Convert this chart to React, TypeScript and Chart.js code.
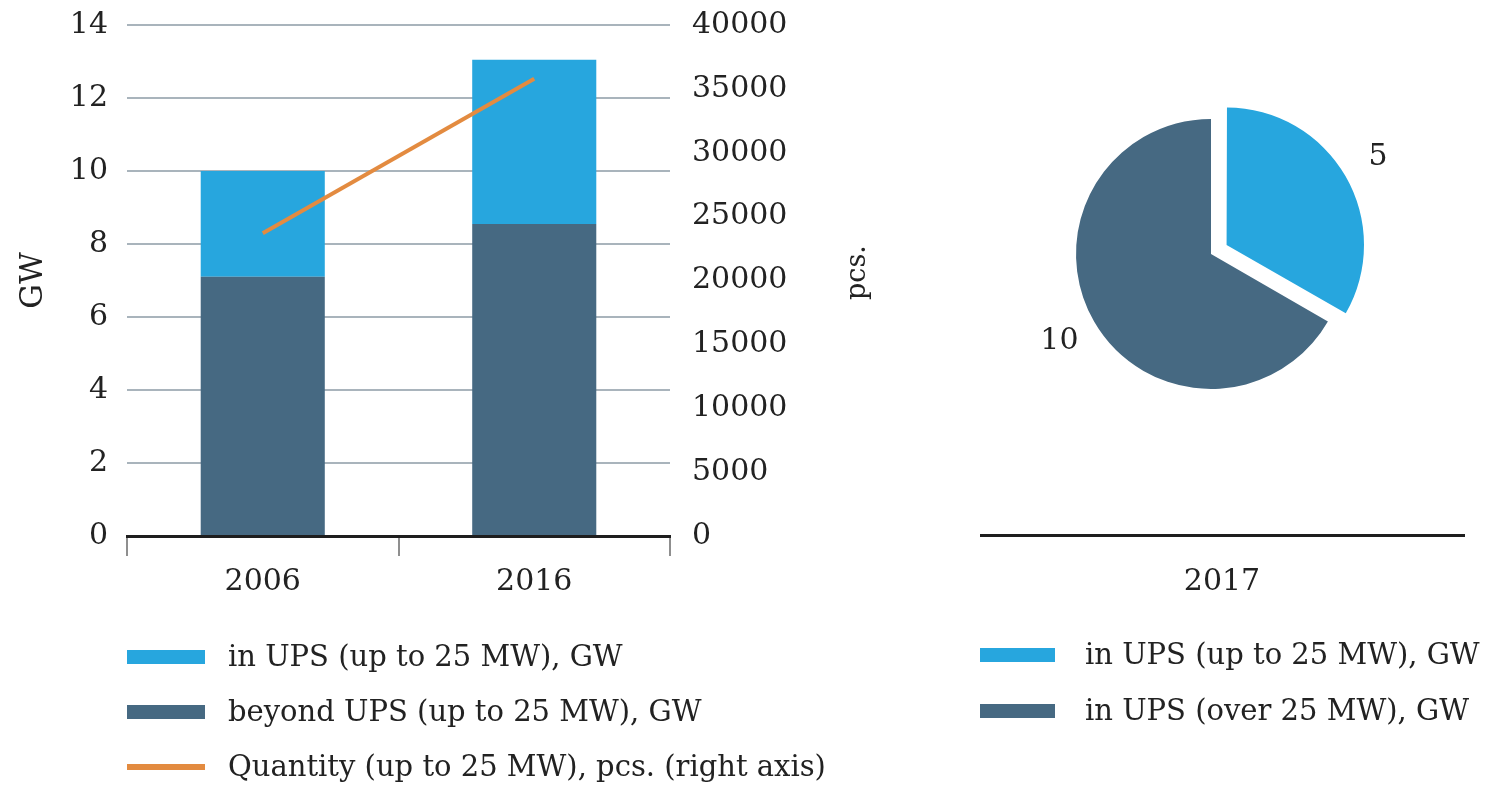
import React, { useEffect, useRef } from 'react';
import { Chart, registerables } from 'chart.js';

Chart.register(...registerables);

// ---- data ----
const years = ['2006', '2016'];
const inUpsGw = [2.9, 4.5];
const beyondUpsGw = [7.1, 8.55];
const quantityPcs = [23700, 35800];

const barLegendLabels = [
  'in UPS (up to 25 MW), GW',
  'beyond UPS (up to 25 MW), GW',
  'Quantity (up to 25 MW), pcs. (right axis)',
];

const pieYear = '2017';
const pieLabels = ['in UPS (up to 25 MW), GW', 'in UPS (over 25 MW), GW'];
const pieValues = [5, 10];

// ---- styling ----
const FONT = '"DejaVu Serif", "Liberation Serif", serif';
const TEXT = '#222222';
const LIGHT = '#27A6DE';
const DARK = '#466982';
const ORANGE = '#E38B40';
const GRID = '#a9b4bc';
// Chart.js 4 draws an arc's offset at a quarter of the option value
const EXPLODE_PX = 18;

// Axis titles and the stacked legend under the bar chart
const barDecor = {
  id: 'barDecor',
  afterDraw(chart: any) {
    const { ctx, chartArea } = chart;
    const midY = (chartArea.top + chartArea.bottom) / 2;
    ctx.save();
    ctx.fillStyle = TEXT;
    ctx.textAlign = 'center';
    ctx.textBaseline = 'middle';

    ctx.font = `31px ${FONT}`;
    ctx.save();
    ctx.translate(chartArea.left - 93, midY);
    ctx.rotate(-Math.PI / 2);
    ctx.fillText('GW', 0, 0);
    ctx.restore();

    ctx.font = `27px ${FONT}`;
    ctx.save();
    ctx.translate(chartArea.right + 188, midY - 8);
    ctx.rotate(-Math.PI / 2);
    ctx.fillText('pcs.', 0, 0);
    ctx.restore();

    // legend: one item per row, in the order in UPS / beyond UPS / Quantity
    const order = [2, 1, 0];
    const x0 = chartArea.left;
    ctx.textAlign = 'left';
    ctx.font = `29px ${FONT}`;
    order.forEach((dsIndex, row) => {
      const ds = chart.data.datasets[dsIndex];
      const y = chartArea.bottom + 121 + row * 55;
      if (ds.type === 'line') {
        ctx.fillStyle = ds.borderColor;
        ctx.fillRect(x0, y - 3, 78, 6);
      } else {
        ctx.fillStyle = ds.backgroundColor;
        ctx.fillRect(x0, y - 7, 78, 14);
      }
      ctx.fillStyle = TEXT;
      ctx.fillText(ds.label, x0 + 101, y + 1);
    });
    ctx.restore();
  },
};

// Value labels beside the slices, the base rule with the year, and the legend
const pieDecor = {
  id: 'pieDecor',
  afterDraw(chart: any) {
    const { ctx } = chart;
    const meta = chart.getDatasetMeta(0);
    const ds = chart.data.datasets[0];
    ctx.save();
    ctx.fillStyle = TEXT;
    ctx.textAlign = 'center';
    ctx.textBaseline = 'middle';
    ctx.font = `30px ${FONT}`;
    meta.data.forEach((arc: any, i: number) => {
      const { x, y, startAngle, endAngle, outerRadius } = arc.getProps(
        ['x', 'y', 'startAngle', 'endAngle', 'outerRadius'],
        true
      );
      const mid = (startAngle + endAngle) / 2;
      const off = Array.isArray(ds.offset) ? ds.offset[i] / 4 : 0;
      const r = outerRadius + off + 40;
      ctx.fillText(String(ds.data[i]), x + Math.cos(mid) * r, y + Math.sin(mid) * r);
    });

    // base rule and year label
    ctx.fillStyle = '#1e1e1e';
    ctx.fillRect(30, 534, 485, 3);
    ctx.fillStyle = TEXT;
    ctx.font = `30px ${FONT}`;
    ctx.fillText(pieYear, 272, 582);

    // legend
    ctx.textAlign = 'left';
    ctx.font = `29px ${FONT}`;
    chart.data.labels.forEach((label: string, i: number) => {
      const y = 655 + i * 56;
      ctx.fillStyle = ds.backgroundColor[i];
      ctx.fillRect(30, y - 7, 75, 14);
      ctx.fillStyle = TEXT;
      ctx.fillText(label, 135, y + 1);
    });
    ctx.restore();
  },
};

function BarLineChart() {
  const ref = useRef<HTMLCanvasElement>(null);
  useEffect(() => {
    if (!ref.current) return;
    const tickFont = { family: FONT, size: 30 };
    const chart = new Chart(ref.current, {
      type: 'bar',
      data: {
        labels: years,
        datasets: [
          {
            type: 'line',
            label: barLegendLabels[2],
            data: quantityPcs,
            yAxisID: 'y1',
            borderColor: ORANGE,
            backgroundColor: ORANGE,
            borderWidth: 4,
            pointRadius: 0,
            order: 0,
          } as any,
          {
            type: 'bar',
            label: barLegendLabels[1],
            data: beyondUpsGw,
            yAxisID: 'y',
            backgroundColor: DARK,
            order: 1,
          },
          {
            type: 'bar',
            label: barLegendLabels[0],
            data: inUpsGw,
            yAxisID: 'y',
            backgroundColor: LIGHT,
            order: 1,
          },
        ],
      },
      options: {
        animation: false,
        responsive: false,
        maintainAspectRatio: false,
        layout: { padding: { left: 14, right: 24, top: 25, bottom: 169 } },
        datasets: { bar: { barPercentage: 0.457, categoryPercentage: 1 } },
        plugins: { legend: { display: false }, tooltip: { enabled: false } },
        scales: {
          x: {
            stacked: true,
            grid: {
              offset: true,
              drawOnChartArea: false,
              drawTicks: true,
              tickLength: 20,
              color: '#8f8f8f',
              lineWidth: 2,
            },
            border: { display: true, color: '#1e1e1e', width: 3 },
            ticks: { font: tickFont, color: TEXT, padding: 8 },
            afterFit: (s: any) => {
              s.height = 80;
            },
          },
          y: {
            stacked: true,
            position: 'left',
            min: 0,
            max: 14,
            // the gap between labels and plot comes from an invisible tick mark
            ticks: { stepSize: 2, font: tickFont, color: TEXT, padding: 0 },
            grid: {
              color: GRID,
              lineWidth: 2,
              drawTicks: true,
              tickLength: 19,
              tickColor: 'rgba(0,0,0,0)',
            },
            border: { display: false },
            afterFit: (s: any) => {
              s.width = 113;
            },
          },
          y1: {
            position: 'right',
            min: 0,
            max: 40000,
            ticks: {
              stepSize: 5000,
              font: tickFont,
              color: TEXT,
              padding: 0,
              callback: (v: any) => String(v),
            },
            grid: {
              drawOnChartArea: false,
              drawTicks: true,
              tickLength: 22,
              tickColor: 'rgba(0,0,0,0)',
            },
            border: { display: false },
            afterFit: (s: any) => {
              s.width = 206;
            },
          },
        },
      } as any,
      plugins: [barDecor],
    });
    return () => chart.destroy();
  }, []);
  return (
    <canvas
      ref={ref}
      width={900}
      height={785}
      style={{ position: 'absolute', left: 0, top: 0 }}
    />
  );
}

function PieChart() {
  const ref = useRef<HTMLCanvasElement>(null);
  useEffect(() => {
    if (!ref.current) return;
    const chart = new Chart(ref.current, {
      type: 'pie',
      data: {
        labels: pieLabels,
        datasets: [
          {
            data: pieValues,
            backgroundColor: [LIGHT, DARK],
            borderWidth: 0,
            offset: [EXPLODE_PX * 4, 0],
          },
        ],
      },
      options: {
        animation: false,
        responsive: false,
        maintainAspectRatio: false,
        radius: 135,
        layout: { padding: { left: 0, right: 24, top: 0, bottom: 277 } },
        plugins: { legend: { display: false }, tooltip: { enabled: false } },
      } as any,
      plugins: [pieDecor],
    });
    return () => chart.destroy();
  }, []);
  return (
    <canvas
      ref={ref}
      width={546}
      height={785}
      style={{ position: 'absolute', left: 950, top: 0 }}
    />
  );
}

export default function App() {
  return (
    <div
      style={{
        position: 'absolute',
        left: 0,
        top: 0,
        width: 1496,
        height: 785,
        background: '#ffffff',
        overflow: 'hidden',
      }}
    >
      <BarLineChart />
      <PieChart />
    </div>
  );
}
